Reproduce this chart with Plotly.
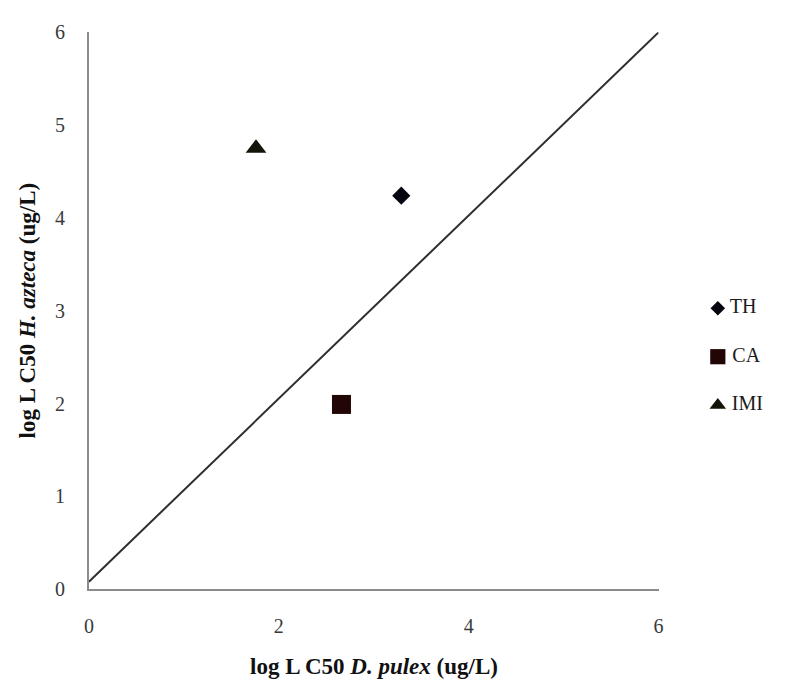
import plotly.graph_objects as go

# Toxicity comparison: log LC50 for D. pulex (x) vs H. azteca (y)
compounds = ["TH", "CA", "IMI"]
log_lc50_pulex = [3.29, 2.66, 1.76]
log_lc50_azteca = [4.24, 1.99, 4.75]

# reference line endpoints
ref_x = [0, 6]
ref_y = [0.08, 6]

y_ticks = [0, 1, 2, 3, 4, 5, 6]
x_ticks = [0, 2, 4, 6]

W, H = 786, 695
SERIF = "Liberation Serif, Times New Roman, serif"

# plot area in pixels
PX_L, PX_R, PX_B, PX_T = 85, 662, 597, 22

symbols = {"TH": "diamond", "CA": "square", "IMI": "triangle-up"}
sizes = {"TH": 14, "CA": 19, "IMI": 18}
colors = {"TH": "#05050f", "CA": "#220606", "IMI": "#141408"}

fig = go.Figure()

fig.add_trace(go.Scatter(
    x=ref_x, y=ref_y, mode="lines",
    line=dict(color="#2e2e2e", width=2),
    showlegend=False, hoverinfo="skip",
))

for name, xv, yv in zip(compounds, log_lc50_pulex, log_lc50_azteca):
    fig.add_trace(go.Scatter(
        x=[xv], y=[yv], mode="markers", name=name,
        marker=dict(symbol=symbols[name], size=sizes[name], color=colors[name]),
        showlegend=False,
    ))

# key at right of the plot area, drawn on a pixel-scaled overlay axis pair
key_px_x, key_px_y0, key_step = 722, 307, 50
for i, name in enumerate(compounds):
    fig.add_trace(go.Scatter(
        x=[key_px_x], y=[key_px_y0 + i * key_step], mode="markers+text",
        text=["\u2009" + name], textposition="middle right",
        textfont=dict(family=SERIF, size=20, color="#1a1a1a"),
        marker=dict(symbol=symbols[name], size=sizes[name] * 0.8, color=colors[name]),
        xaxis="x2", yaxis="y2", showlegend=False, hoverinfo="skip",
    ))

x_dom = [PX_L / W, PX_R / W]
y_dom = [1 - PX_B / H, 1 - PX_T / H]

fig.update_layout(
    width=W, height=H,
    margin=dict(l=0, r=0, t=0, b=0),
    paper_bgcolor="white", plot_bgcolor="rgba(0,0,0,0)",
    showlegend=False,
    xaxis=dict(
        domain=x_dom, range=[0, 6], tickvals=x_ticks,
        showgrid=False, zeroline=False,
        showline=True, linecolor="#8c8c8c", linewidth=2,
        ticks="", ticklabelstandoff=18,
        tickfont=dict(family=SERIF, size=20, color="#3a3a3a"),
    ),
    yaxis=dict(
        domain=y_dom, range=[0, 6], tickvals=y_ticks,
        showgrid=False, zeroline=False,
        showline=True, linecolor="#8c8c8c", linewidth=2,
        ticks="", ticklabelstandoff=18,
        tickfont=dict(family=SERIF, size=20, color="#3a3a3a"),
    ),
    xaxis2=dict(domain=[0, 1], range=[0, W], visible=False,
                fixedrange=True, anchor="y2"),
    yaxis2=dict(domain=[0, 1], range=[H, 0], visible=False,
                fixedrange=True, anchor="x2"),
    annotations=[
        dict(
            text="<b>log L C50 <i>D. pulex</i> (ug/L)</b>",
            x=(x_dom[0] + x_dom[1]) / 2, y=1 - 677 / H,
            xref="paper", yref="paper", showarrow=False,
            xanchor="center", yanchor="middle",
            font=dict(family=SERIF, size=23, color="#111111"),
        ),
        dict(
            text="<b>log L C50 <i>H. azteca</i> (ug/L)</b>",
            x=23 / W, y=(y_dom[0] + y_dom[1]) / 2,
            xref="paper", yref="paper", showarrow=False, textangle=-90,
            xanchor="center", yanchor="middle",
            font=dict(family=SERIF, size=23, color="#111111"),
        ),
    ],
)

fig.write_html("out.html")
